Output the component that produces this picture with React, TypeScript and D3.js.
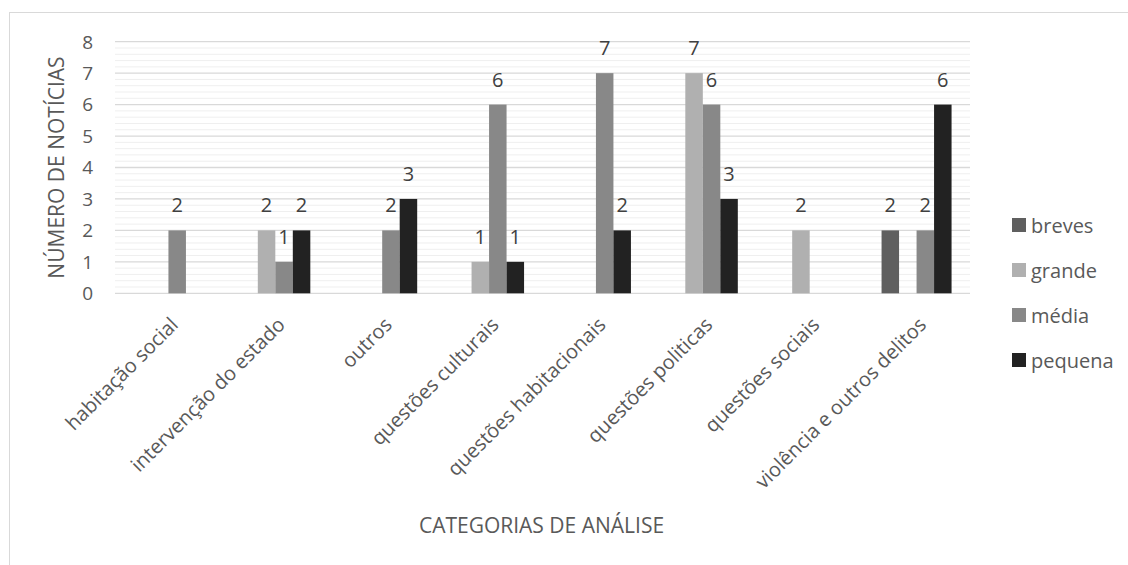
import React from "react";
import * as d3 from "d3";

const categories = [
  "habitação social",
  "intervenção do estado",
  "outros",
  "questões culturais",
  "questões habitacionais",
  "questões politicas",
  "questões sociais",
  "violência e outros delitos",
];
const seriesNames = ["breves", "grande", "média", "pequena"];
const breves = [0, 0, 0, 0, 0, 0, 0, 2];
const grande = [0, 2, 0, 1, 0, 7, 2, 0];
const media = [2, 1, 2, 6, 7, 6, 0, 2];
const pequena = [0, 2, 3, 1, 2, 3, 0, 6];
const yTicks = [0, 1, 2, 3, 4, 5, 6, 7, 8];
const colors = ["#5f5f5f", "#b0b0b0", "#888888", "#222222"];

const W = 1128;
const H = 565;
const left = 115;
const right = 970;
const top = 41.7;
const bottom = 293.3;
const FONT = "'Open Sans', sans-serif";
const TXT = "#595959";

export default function App() {
  const seriesVals = [breves, grande, media, pequena];
  const x = d3.scaleBand<string>().domain(categories).range([left, right]).paddingInner(0).paddingOuter(0);
  const groupW = 70;
  const xi = d3.scaleBand<string>().domain(seriesNames).range([0, groupW]).padding(0);
  const y = d3.scaleLinear().domain([0, 8]).range([bottom, top]);
  const minor = d3.range(0, 8, 0.2).filter((v) => Math.abs(v - Math.round(v)) > 0.01);

  return (
    <svg width={W} height={H} style={{ display: "block", position: "absolute", left: 0, top: 0 }}>
      <rect x={0} y={0} width={W} height={H} fill="#fff" />
      <rect x={9.5} y={12.5} width={1200} height={700} fill="none" stroke="#d9d9d9" strokeWidth={1} />
      {minor.map((v) => (
        <line key={"m" + v} x1={left} x2={right} y1={y(v)} y2={y(v)} stroke="#efefef" strokeWidth={1} />
      ))}
      {yTicks.map((v) => (
        <line key={"g" + v} x1={left} x2={right} y1={y(v)} y2={y(v)} stroke="#d9d9d9" strokeWidth={1.3} />
      ))}
      {yTicks.map((v) => (
        <text key={"t" + v} x={93} y={y(v)} dy="0.36em" textAnchor="end" fontFamily={FONT} fontSize={19} fill={TXT}>
          {v}
        </text>
      ))}
      <text
        transform={`translate(64,${(top + bottom) / 2}) rotate(-90)`}
        textAnchor="middle"
        fontFamily={FONT}
        fontSize={21}
        fill={TXT}
      >
        NÚMERO DE NOTÍCIAS
      </text>
      {categories.map((c, ci) => {
        const cx = (x(c) as number) + x.bandwidth() / 2;
        const gx = cx - groupW / 2;
        return (
          <g key={c}>
            {seriesNames.map((s, si) => {
              const v = seriesVals[si][ci];
              if (!v) return null;
              const bx = gx + (xi(s) as number);
              return (
                <g key={s}>
                  <rect x={bx} y={y(v)} width={xi.bandwidth()} height={y(0) - y(v)} fill={colors[si]} />
                  <text
                    x={bx + xi.bandwidth() / 2}
                    y={y(v) - 18}
                    textAnchor="middle"
                    fontFamily={FONT}
                    fontSize={20}
                    fill="#404040"
                  >
                    {v}
                  </text>
                </g>
              );
            })}
            <text
              transform={`translate(${cx + 11},${326}) rotate(-45)`}
              textAnchor="end"
              fontFamily={FONT}
              fontSize={20}
              fill={TXT}
            >
              {c}
            </text>
          </g>
        );
      })}
      <text x={541.5} y={526} dy="0.35em" textAnchor="middle" fontFamily={FONT} fontSize={21} fill={TXT}>
        CATEGORIAS DE ANÁLISE
      </text>
      {seriesNames.map((s, i) => (
        <g key={s} transform={`translate(1012,${218 + i * 45})`}>
          <rect x={0} y={0} width={14} height={14} fill={colors[i]} />
          <text x={19} y={15} fontFamily={FONT} fontSize={20} fill={TXT}>
            {s}
          </text>
        </g>
      ))}
    </svg>
  );
}
